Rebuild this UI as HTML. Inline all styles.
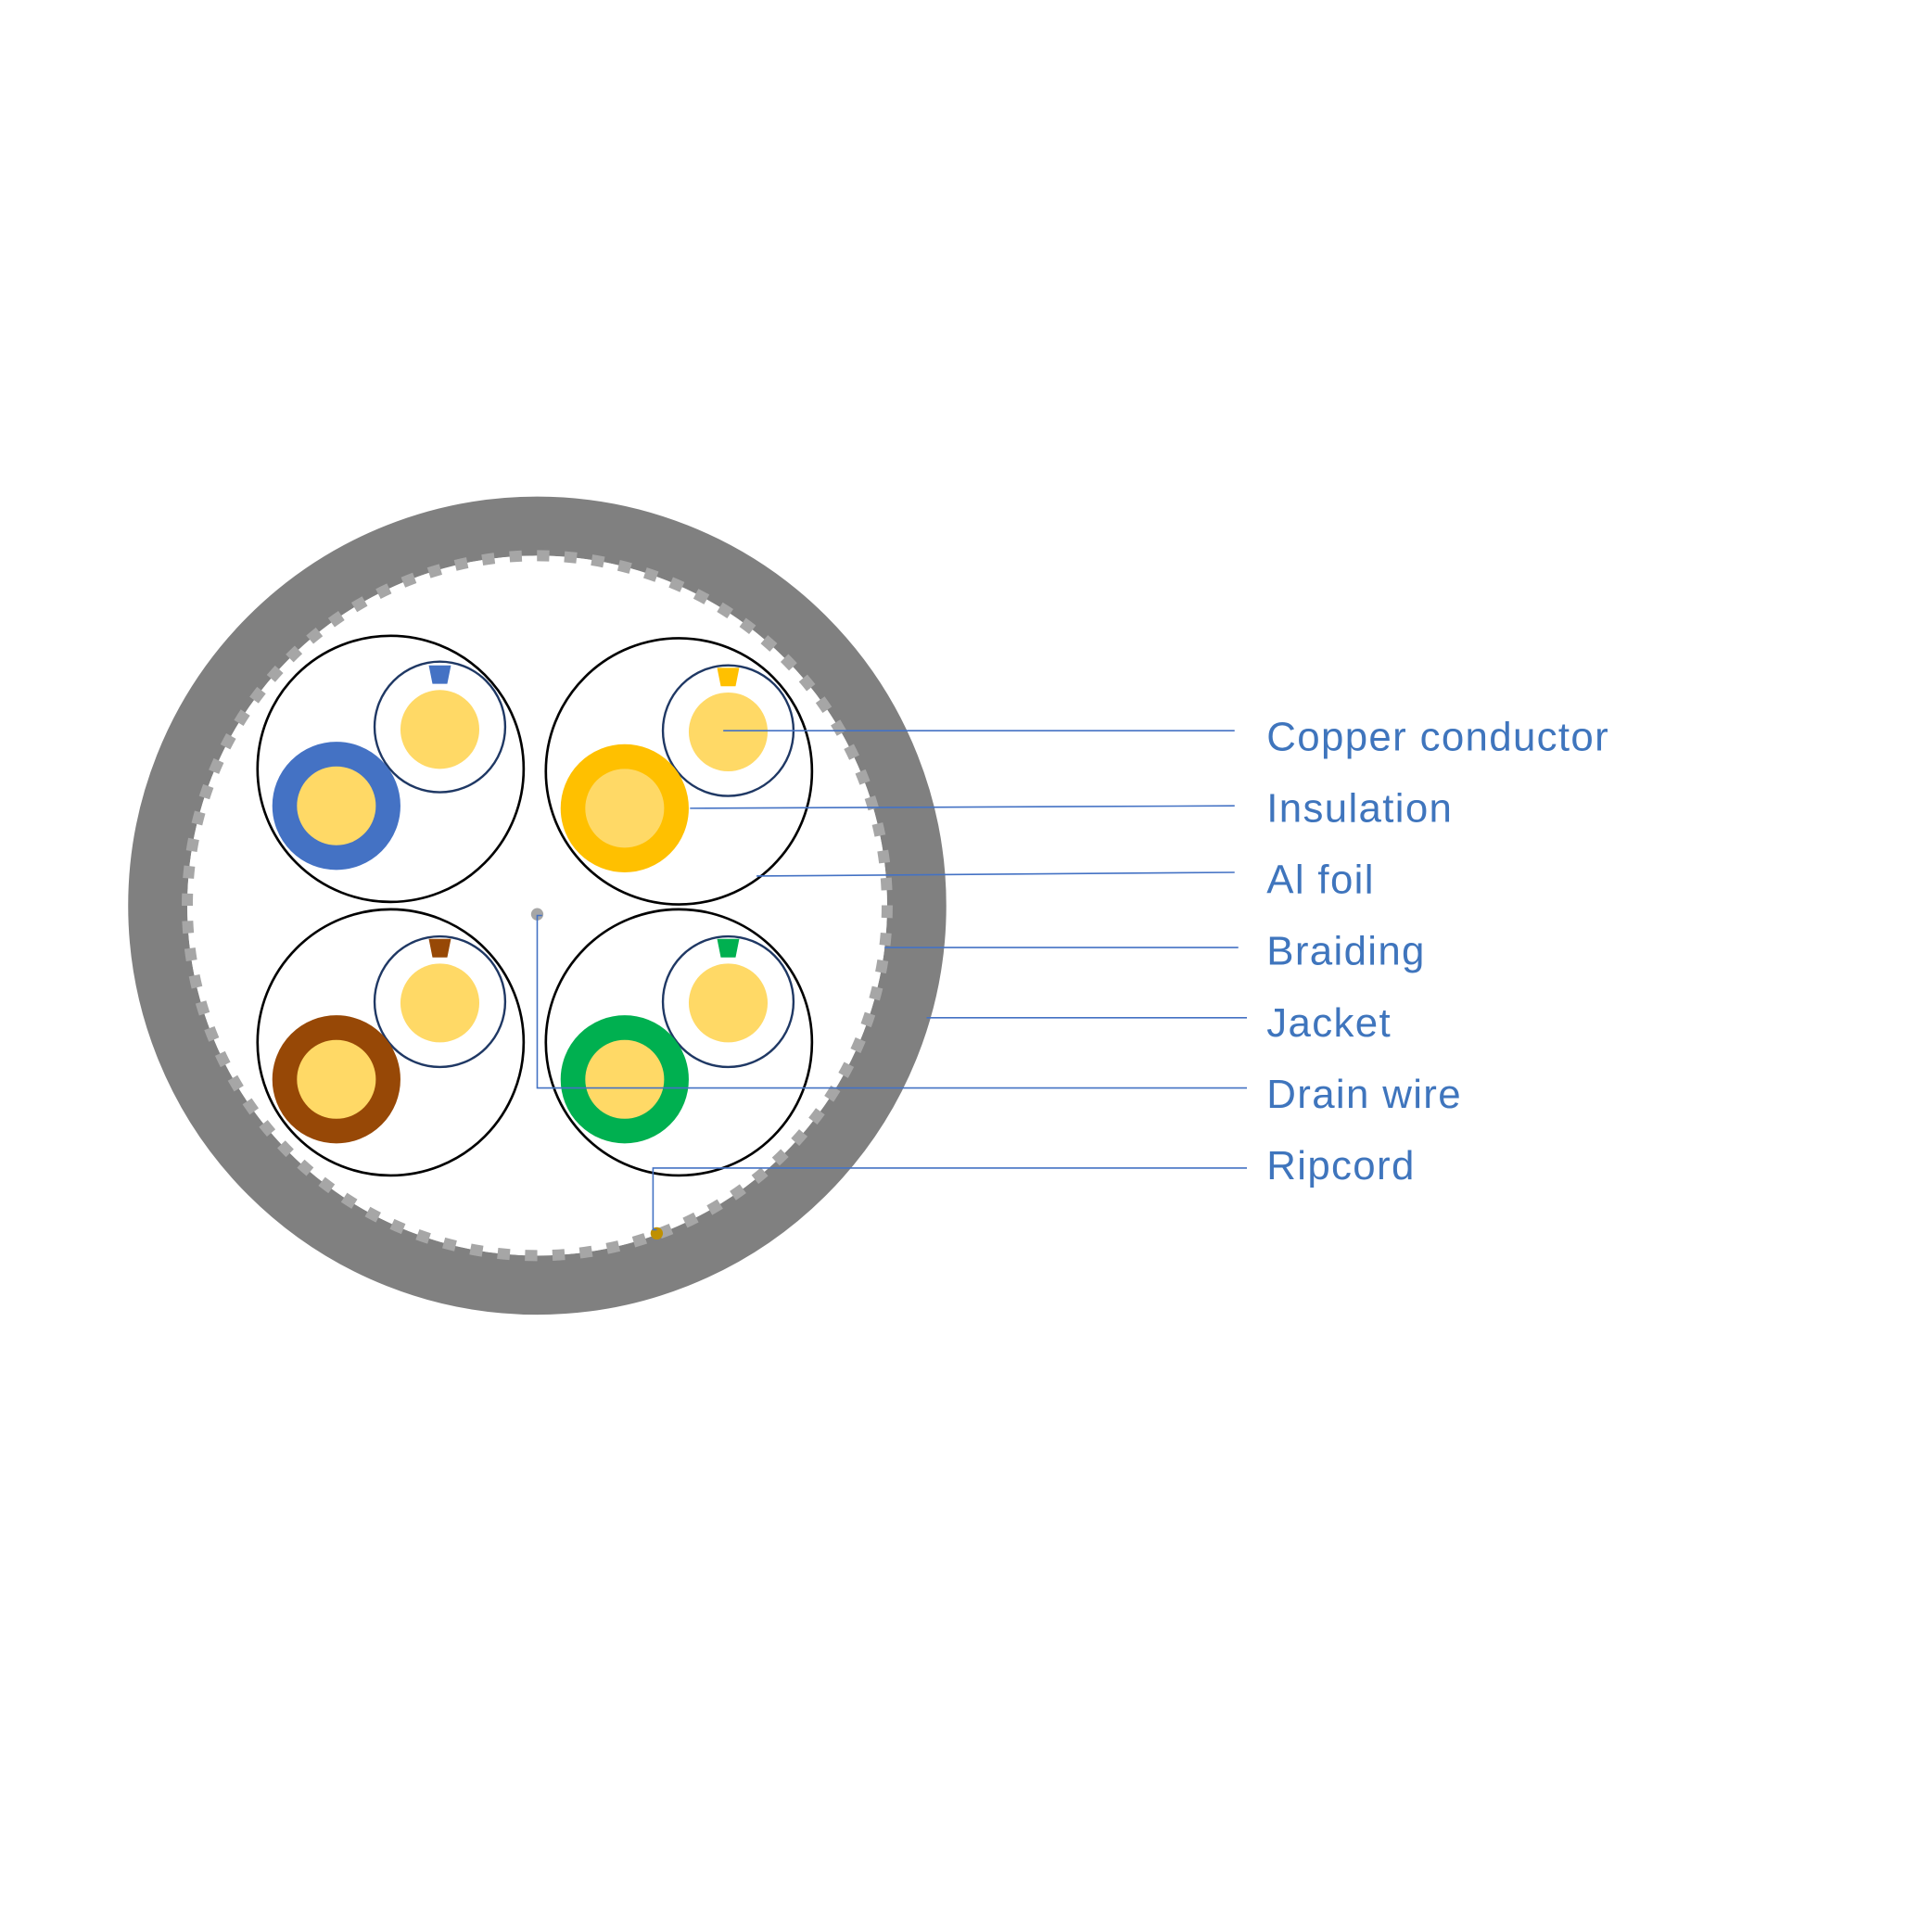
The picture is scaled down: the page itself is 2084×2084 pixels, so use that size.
<!DOCTYPE html>
<html><head><meta charset="utf-8"><style>html,body{margin:0;padding:0;background:#fff}svg{display:block}</style></head>
<body>
<svg width="2084" height="2084" viewBox="0 0 1568 1568" xmlns="http://www.w3.org/2000/svg">
<rect width="1568" height="1568" fill="#fff"/>
<circle cx="436" cy="735" r="308" fill="none" stroke="#808080" stroke-width="48"/>
<circle cx="436" cy="735" r="284" fill="#fff"/>
<circle cx="436" cy="735" r="284" fill="none" stroke="#a6a6a6" stroke-width="9" stroke-dasharray="10 12.3"/>
<g fill="none" stroke="#000" stroke-width="2">
<circle cx="317" cy="624" r="108"/><circle cx="551" cy="626" r="108"/>
<circle cx="317" cy="846" r="108"/><circle cx="551" cy="846" r="108"/>
</g>
<g fill="#fff" stroke="#1f3864" stroke-width="1.8">
<circle cx="357" cy="590" r="53"/><circle cx="591" cy="593" r="53"/>
<circle cx="357" cy="813" r="53"/><circle cx="591" cy="813" r="53"/>
</g>
<g fill="#FFD966">
<circle cx="357" cy="592" r="32"/><circle cx="591" cy="594" r="32"/>
<circle cx="357" cy="814" r="32"/><circle cx="591" cy="814" r="32"/>
</g>
<polygon points="348,540 366,540 363,555 351,555" fill="#4472C4"/>
<polygon points="582,542 600,542 597,557 585,557" fill="#FFC000"/>
<polygon points="348,762 366,762 363,777 351,777" fill="#974806"/>
<polygon points="582,762 600,762 597,777 585,777" fill="#00B050"/>
<circle cx="273" cy="654" r="42" fill="#FFD966" stroke="#4472C4" stroke-width="20"/>
<circle cx="507" cy="656" r="42" fill="#FFD966" stroke="#FFC000" stroke-width="20"/>
<circle cx="273" cy="876" r="42" fill="#FFD966" stroke="#974806" stroke-width="20"/>
<circle cx="507" cy="876" r="42" fill="#FFD966" stroke="#00B050" stroke-width="20"/>
<circle cx="436" cy="742" r="5" fill="#a6a6a6"/>
<circle cx="533" cy="1001" r="5" fill="#BF9000"/>
<g fill="none" stroke="#4472C4" stroke-width="1.2">
<line x1="587" y1="593" x2="1002" y2="593"/>
<line x1="560" y1="656" x2="1002" y2="654"/>
<line x1="614" y1="711" x2="1002" y2="708"/>
<line x1="718" y1="769" x2="1005" y2="769"/>
<line x1="752" y1="826" x2="1012" y2="826"/>
<polyline points="440,743 436,743 436,883 1012,883"/>
<polyline points="533,998 530,998 530,948 1012,948"/>
</g>
<g font-family="Liberation Sans, sans-serif" font-size="33" fill="#3F75BD" letter-spacing="1">
<text x="1028" y="609">Copper conductor</text>
<text x="1028" y="667">Insulation</text>
<text x="1028" y="725">Al foil</text>
<text x="1028" y="783">Braiding</text>
<text x="1028" y="841">Jacket</text>
<text x="1028" y="899">Drain wire</text>
<text x="1028" y="957">Ripcord</text>
</g>
</svg>
</body></html>
